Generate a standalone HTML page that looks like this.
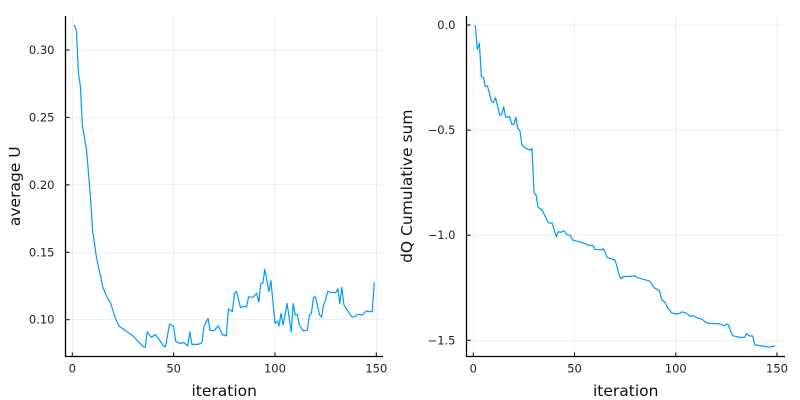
<!DOCTYPE html>
<html><head><meta charset="utf-8"><style>
body{margin:0;background:#fff;}
svg{display:block;font-family:"DejaVu Sans","Liberation Sans",sans-serif;}
</style></head><body>
<svg id="chart" width="800" height="400" xmlns="http://www.w3.org/2000/svg"></svg>
<script>
const leftIter=[1,2,3,4,5,7,9,10,12,14,15,17,19,21,23,27,30,33,35,36,37,39,41,43,45,46,48,50,51,53,55,57,58,59,62,64,65,67,68,70,72,74,76,77,79,80,81,83,85,86,87,89,91,92,93,94,95,97,98,100,101,102,103,104,106,108,109,110,111,112,114,116,117,118,119,120,122,123,124,125,126,128,130,131,132,133,134,136,138,139,141,143,145,147,148,149];
const leftU=[0.3186,0.3144,0.283,0.273,0.244,0.226,0.191,0.166,0.1455,0.132,0.1245,0.117,0.112,0.102,0.0953,0.0911,0.0879,0.083,0.080,0.0795,0.091,0.087,0.089,0.085,0.0805,0.080,0.0968,0.095,0.084,0.0824,0.083,0.0805,0.091,0.0817,0.0817,0.083,0.095,0.101,0.092,0.092,0.0955,0.089,0.088,0.108,0.106,0.1195,0.121,0.109,0.110,0.1096,0.117,0.1166,0.1195,0.113,0.127,0.127,0.1373,0.1208,0.129,0.097,0.099,0.0953,0.1047,0.096,0.112,0.091,0.112,0.1035,0.104,0.096,0.0916,0.0923,0.1035,0.1047,0.1166,0.117,0.1035,0.102,0.111,0.1146,0.121,0.120,0.120,0.123,0.112,0.124,0.111,0.1064,0.102,0.102,0.104,0.1035,0.1064,0.106,0.106,0.1277];
const rightIter=[1,2,3,4,5,6,7,9,10,11,13,14,15,16,18,19,20,21,22,23,24,26,28,29,30,31,32,34,36,37,39,40,41,42,43,45,46,48,49,52,55,57,59,60,63,64,65,66,68,70,71,72,73,74,80,81,84,87,88,89,92,93,95,96,98,100,102,103,105,107,109,111,113,115,117,122,124,125,126,128,132,134,135,136,138,139,143,146,149];
const rightDQ=[0,-0.116,-0.087,-0.246,-0.249,-0.293,-0.29,-0.365,-0.368,-0.346,-0.428,-0.428,-0.389,-0.439,-0.436,-0.473,-0.473,-0.439,-0.492,-0.503,-0.571,-0.587,-0.595,-0.587,-0.798,-0.809,-0.867,-0.88,-0.92,-0.94,-0.944,-0.975,-1.007,-0.983,-0.986,-0.98,-0.996,-1.002,-1.023,-1.031,-1.039,-1.048,-1.048,-1.067,-1.07,-1.064,-1.078,-1.105,-1.112,-1.118,-1.15,-1.19,-1.207,-1.197,-1.194,-1.202,-1.21,-1.218,-1.229,-1.248,-1.265,-1.305,-1.324,-1.346,-1.369,-1.375,-1.372,-1.365,-1.369,-1.385,-1.385,-1.395,-1.40,-1.416,-1.419,-1.422,-1.432,-1.422,-1.427,-1.478,-1.486,-1.486,-1.467,-1.478,-1.48,-1.522,-1.527,-1.533,-1.527];
const xTicks=[0,50,100,150];
const leftYTicks=[0.10,0.15,0.20,0.25,0.30];
const leftYLabels=["0.10","0.15","0.20","0.25","0.30"];
const rightYTicks=[0,-0.5,-1.0,-1.5];
const rightYLabels=["0.0","\u22120.5","\u22121.0","\u22121.5"];

const NS="http://www.w3.org/2000/svg";
const svg=document.getElementById('chart');
function mk(tag,attrs,parent){const e=document.createElementNS(NS,tag);for(const k in attrs)e.setAttribute(k,attrs[k]);(parent||svg).appendChild(e);return e;}

function panel(p){
  const g=mk('g',{});
  
  
  const xs=v=>p.x0+(v-0)*(p.x150-p.x0)/150;
  const ys=v=>p.ya+(v-p.va)*(p.yb-p.ya)/(p.vb-p.va);
  xTicks.forEach(t=>{const l=mk('line',{x1:xs(t),x2:xs(t),y1:p.top,y2:p.bottom,stroke:'#000','stroke-opacity':0.1,'stroke-width':0.6},g);
    });
  p.yTicks.forEach(t=>{const l=mk('line',{x1:p.left,x2:p.right,y1:ys(t),y2:ys(t),stroke:'#000','stroke-opacity':0.1,'stroke-width':0.6},g);
    });
  const ax=mk('line',{x1:p.left,x2:p.left,y1:p.top,y2:p.bottom+0.5,stroke:'#000','stroke-width':1.3},g);
  
  const bx=mk('line',{x1:p.left,x2:p.right,y1:p.bottom,y2:p.bottom,stroke:'#000','stroke-width':1.3},g);
  
  xTicks.forEach(t=>{
    mk('line',{x1:xs(t),x2:xs(t),y1:p.bottom,y2:p.bottom-4,stroke:'#000','stroke-width':1},g);
    const tx=mk('text',{x:xs(t),y:p.bottom+16,'text-anchor':'middle','font-size':11.5,fill:'#222'},g);
    tx.textContent=t;
    
  });
  p.yTicks.forEach((t,i)=>{
    mk('line',{x1:p.left,x2:p.left+4,y1:ys(t),y2:ys(t),stroke:'#000','stroke-width':1},g);
    const tx=mk('text',{x:p.left-11,y:ys(t)+4,'text-anchor':'end','font-size':11.5,fill:'#222'},g);
    tx.textContent=p.yLabels[i];
    
  });
  const xl=mk('text',{x:(p.left+p.right)/2,y:396,'text-anchor':'middle','font-size':15.5,fill:'#111'},g);
  xl.textContent='iteration';
  
  const yl=mk('text',{x:0,y:0,'text-anchor':'middle','font-size':15.5,fill:'#111',transform:`translate(${p.ylx},${(p.top+p.bottom)/2}) rotate(-90)`},g);
  yl.textContent=p.ytitle;
  
  const d=p.xs_.map((v,i)=>(i?'L':'M')+xs(v).toFixed(1)+','+ys(p.ys_[i]).toFixed(1)).join('');
  const path=mk('path',{d:d,fill:'none',stroke:'#009af9','stroke-width':1.2,'stroke-linejoin':'round'},g);
  
}
panel({name:'average-u-panel',left:65.5,right:383,top:16,bottom:356.5,x0:72.3,x150:376.3,va:0.10,ya:319.7,vb:0.30,yb:50,
  yTicks:leftYTicks,yLabels:leftYLabels,ytitle:'average U',ylx:20,xs_:leftIter,ys_:leftU});
panel({name:'dq-cumulative-panel',left:466.5,right:785,top:16,bottom:356.5,x0:473.3,x150:777,va:0,ya:25,vb:-1.5,yb:340.3,
  yTicks:rightYTicks,yLabels:rightYLabels,ytitle:'dQ Cumulative sum',ylx:412,xs_:rightIter,ys_:rightDQ});
</script>
</body></html>
